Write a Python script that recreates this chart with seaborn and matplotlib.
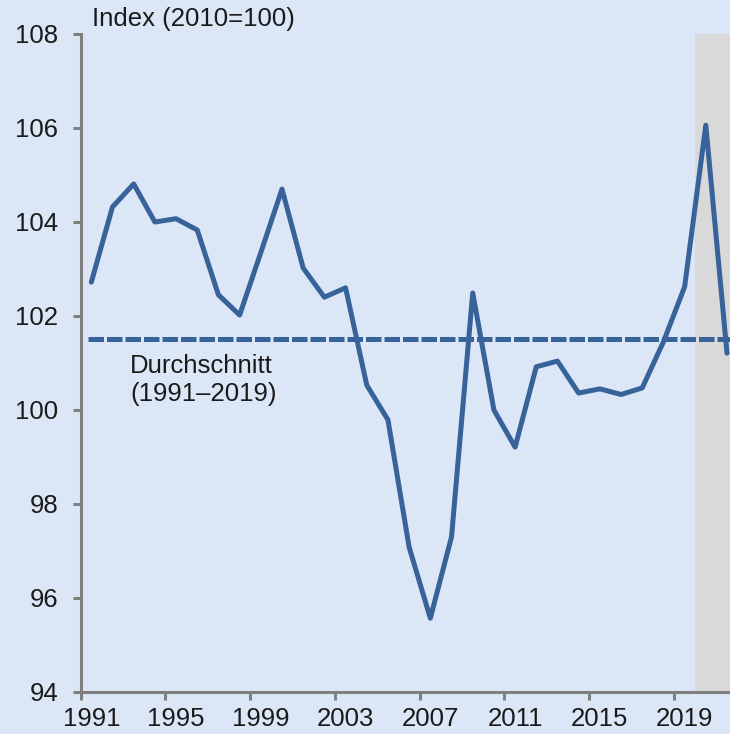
import numpy as np
import pandas as pd
import matplotlib
matplotlib.use("Agg")
import matplotlib.pyplot as plt
import seaborn as sns

years = list(range(1991, 2022))
index_values = [102.72, 104.32, 104.81, 104.00, 104.07, 103.83, 102.45, 102.02,
                103.35, 104.70, 103.02, 102.40, 102.60, 100.53, 99.79, 97.08,
                95.57, 97.30, 102.49, 100.00, 99.21, 100.92, 101.04, 100.36,
                100.45, 100.33, 100.47, 101.45, 102.62, 106.06, 101.21]
average_1991_2019 = 101.51
forecast_start = 2019.5
xtick_years = [1991, 1995, 1999, 2003, 2007, 2011, 2015, 2019]

data = pd.DataFrame({"Jahr": years, "Index": index_values})

bg = "#DBE7F6"
line_col = "#38629A"
axis_col = "#808080"
fs = 18.5

sns.set_style("ticks")
plt.rcParams["font.family"] = ["Liberation Sans", "DejaVu Sans"]

fig = plt.figure(figsize=(7.3, 7.34), dpi=100, facecolor=bg)
ax = fig.add_axes([80.7 / 730, 1 - 692 / 734, 1 - 80.7 / 730, (692 - 34) / 734])
ax.set_facecolor(bg)

x_left = 1990.5
x_right = x_left + (730 - 80.7) / 21.19
ax.set_xlim(x_left, x_right)
ax.set_ylim(94, 108)

# grauer Bereich (Prognose)
ax.axvspan(forecast_start, x_right + 1, color="#D9D9D9", lw=0, zorder=0)

# Durchschnittslinie
ax.plot([1990.85, x_right + 1], [average_1991_2019] * 2, color=line_col, lw=3.6,
        dashes=(3.1, 0.6), solid_capstyle="butt", zorder=2)

sns.lineplot(data=data, x="Jahr", y="Index", ax=ax, color=line_col, lw=3.6,
             zorder=3, legend=False)

ax.text(1992.83, 101.19, "Durchschnitt\n(1991\u20132019)", ha="left", va="top",
        fontsize=fs, color="#1a1a1a", linespacing=1.2)

fig.text(92 / 730, 1 - 19 / 734, "Index (2010=100)", ha="left", va="center",
         fontsize=fs, color="#1a1a1a")

# Achsen
for s in ["top", "right"]:
    ax.spines[s].set_visible(False)
for s in ["left", "bottom"]:
    ax.spines[s].set_color(axis_col)
    ax.spines[s].set_linewidth(2.2)

ax.set_yticks(range(94, 109, 2))
ax.tick_params(axis="y", length=6, width=2.2, color=axis_col, pad=10,
               labelsize=fs, labelcolor="#1a1a1a")

ax.set_xticks(xtick_years)
ax.set_xticklabels([str(y) for y in xtick_years])
ax.set_xticks([x_left + 4 * k for k in range(8)], minor=True)
ax.tick_params(axis="x", which="major", length=0, pad=11, labelsize=fs,
               labelcolor="#1a1a1a")
ax.tick_params(axis="x", which="minor", length=6, width=2.2, color=axis_col)

ax.set_xlabel("")
ax.set_ylabel("")

fig.savefig("out.png", dpi=100, facecolor=bg)
